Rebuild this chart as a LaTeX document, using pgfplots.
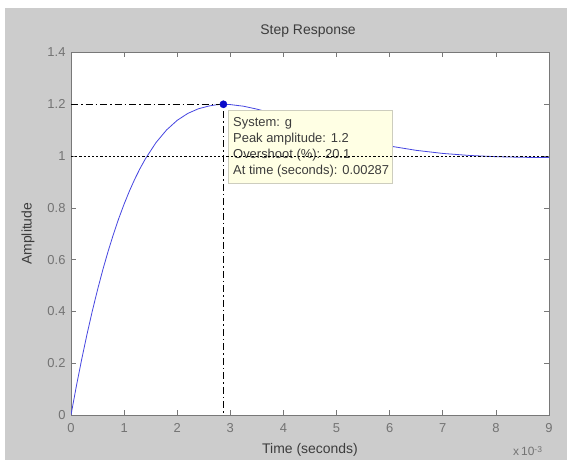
\documentclass[border=0pt]{standalone}
\usepackage{pgfplots}
\pgfplotsset{compat=1.18}
\usepackage{fontspec}
\setmainfont{Liberation Sans}
\definecolor{figbg}{RGB}{204,204,204}
\definecolor{tickgray}{RGB}{115,115,115}
\definecolor{labgray}{RGB}{60,60,60}
\definecolor{axgray}{RGB}{120,120,120}
\definecolor{curveblue}{RGB}{70,70,225}
\definecolor{tipbg}{RGB}{255,255,228}
\definecolor{tipedge}{RGB}{205,205,190}
\begin{document}
\begin{tikzpicture}
\path[use as bounding box] (-71bp,-45bp) rectangle (496bp,415bp);
\fill[white] (-71bp,-45bp) rectangle (496bp,415bp);
\fill[figbg] (-66bp,-45bp) rectangle (496bp,407bp);
\begin{axis}[
  at={(0,0)}, anchor=south west,
  scale only axis, width=478bp, height=362.5bp,
  xmin=0, xmax=9, ymin=0, ymax=1.4,
  xtick={0,1,2,3,4,5,6,7,8,9},
  ytick={0,0.2,0.4,0.6,0.8,1,1.2,1.4},
  /pgf/number format/assume math mode=true,
  tick align=inside, major tick length=5bp,
  axis background/.style={fill=white},
  axis line style={draw=axgray, line width=0.7bp},
  tick style={draw=axgray, line width=0.6bp},
  ticklabel style={font=\fontsize{13}{15}\selectfont, text=tickgray},
  xticklabel style={yshift=-5bp},
  yticklabel style={xshift=-2bp},
  title={Step Response},
  title style={at={(axis description cs:0.496,1.043)}, anchor=center, font=\fontsize{14}{16}\selectfont, text=labgray},
  xlabel={Time (seconds)},
  xlabel style={at={(axis description cs:0.5,-0.097)}, anchor=center, font=\fontsize{14}{16}\selectfont, text=labgray},
  ylabel={Amplitude},
  ylabel style={at={(axis description cs:-0.09,0.5)}, anchor=center, font=\fontsize{14}{16}\selectfont, text=labgray},
  clip=true,
]
\addplot[curveblue, line width=0.8bp] coordinates {
(0,0) (0.1,0.1104) (0.2,0.2138) (0.3,0.3104) (0.4,0.4005) (0.5,0.4840)
(0.6,0.5615) (0.7,0.6330) (0.8,0.6988) (0.9,0.7594) (1.0,0.8145)
(1.1,0.8649) (1.2,0.9107) (1.3,0.9520) (1.4,0.9891) (1.6,1.0520)
(1.8,1.1010) (2.0,1.1381) (2.2,1.1648) (2.4,1.1828) (2.6,1.1935)
(2.75,1.1985) (2.87,1.2) (3.0,1.1988) (3.25,1.1925) (3.5,1.1813)
(3.75,1.1679) (4.0,1.1526) (4.5,1.1199) (5.0,1.0883) (5.5,1.0609)
(6.0,1.0388) (6.5,1.0221) (7.0,1.0102) (7.5,1.0024) (8.0,0.9976)
(8.5,0.9952) (9.0,0.9943)
};
\addplot[black, line width=0.6bp, dash pattern=on 7bp off 3bp on 1.5bp off 3bp] coordinates {(0,1.2) (2.87,1.2) (2.87,0)};
\draw[fill=tipbg, draw=tipedge, line width=0.6bp] (axis cs:2.96,0.896) rectangle (axis cs:6.05,1.178);
\node[anchor=west, text=labgray, font=\fontsize{13}{15}\selectfont, inner sep=0pt] at (axis cs:3.05,1.127) {System: g};
\node[anchor=west, text=labgray, font=\fontsize{13}{15}\selectfont, inner sep=0pt] at (axis cs:3.05,1.066) {Peak amplitude: 1.2};
\node[anchor=west, text=labgray, font=\fontsize{13}{15}\selectfont, inner sep=0pt] at (axis cs:3.05,1.004) {Overshoot (\%): 20.1};
\node[anchor=west, text=labgray, font=\fontsize{13}{15}\selectfont, inner sep=0pt] at (axis cs:3.05,0.940) {At time (seconds): 0.00287};
\addplot[black, line width=0.6bp, dash pattern=on 2.2bp off 2bp] coordinates {(0,1) (9,1)};
\addplot[only marks, mark=*, mark size=3.6bp, color={rgb,255:red,10;green,10;blue,200}] coordinates {(2.87,1.2)};
\end{axis}
\node[anchor=west, text=tickgray, font=\fontsize{12}{14}\selectfont, inner sep=0pt] at (442bp,-36bp) {x\,10\raisebox{0.5ex}{\fontsize{8.5}{10}\selectfont -3}};
\end{tikzpicture}
\end{document}
